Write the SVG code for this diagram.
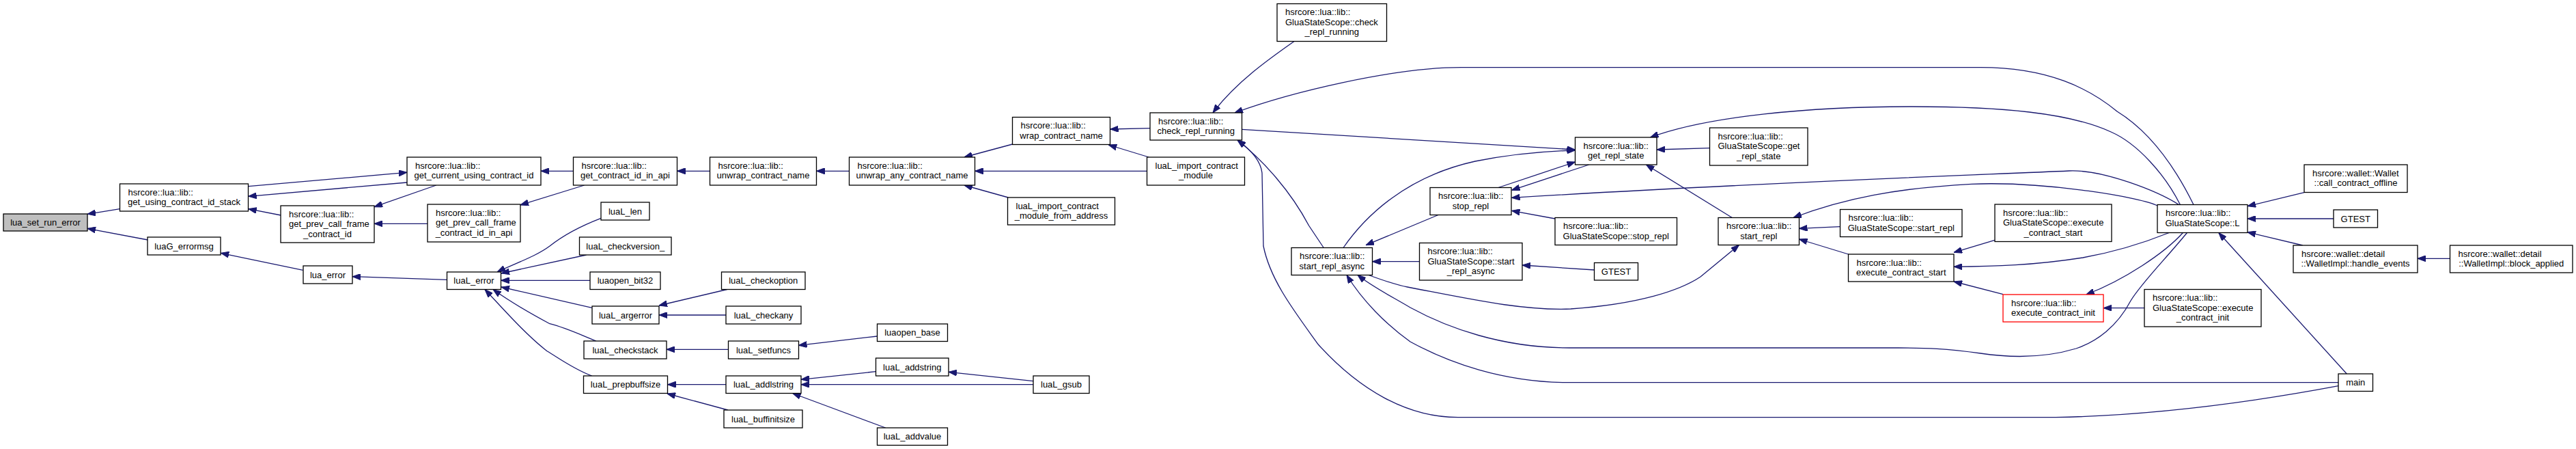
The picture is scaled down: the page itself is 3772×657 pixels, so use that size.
<svg xmlns="http://www.w3.org/2000/svg" width="3772" height="657" viewBox="0 0 3772 657">
<style>
.node rect{fill:#fff;stroke:#000;stroke-width:1.3}
.node text{font-family:"Liberation Sans",Arial,sans-serif;font-size:13px;fill:#000}
.c{text-anchor:middle}
.l{text-anchor:start}
#edges path{fill:none;stroke:#191970;stroke-width:1.3;marker-end:url(#ah)}
</style>
<defs>
<marker id="ah" viewBox="0 0 12 9" refX="12" refY="4.5" markerWidth="12" markerHeight="9" markerUnits="userSpaceOnUse" orient="auto"><path d="M0,0 L12,4.5 L0,9 z" fill="#191970" stroke="#191970" stroke-width="1"/></marker>
</defs>
<rect width="3772" height="657" fill="#fff"/>
<g id="edges">
<path d="M175.5,305.7 L128,313.3"/>
<path d="M216.3,351 L128,334.3"/>
<path d="M363.7,272.7 L596,252.3"/>
<path d="M596,267 L363.7,287.3"/>
<path d="M411.4,315 L363.7,305.7"/>
<path d="M638.8,271 L548,302.7"/>
<path d="M626,327.3 L548,327.3"/>
<path d="M839.5,250.3 L792,250.3"/>
<path d="M855.7,271 L762,300"/>
<path d="M1039.5,250.3 L991.5,250.3"/>
<path d="M1243.5,250.3 L1195.5,250.3"/>
<path d="M1482.5,211 L1411.8,230"/>
<path d="M1679.5,250.3 L1427.5,250.3"/>
<path d="M1476.3,289 L1411.8,271"/>
<path d="M1684,187.7 L1625.5,189"/>
<path d="M1682.4,230 L1623.3,212"/>
<path d="M1895,60.5 C1860,85 1810,120 1776,165"/>
<path d="M3212,299.5 C3195,265 3160,200 3100,163 C3060,130 3000,98.7 2900,98.7 L2140,98.7 C2040,98.7 1890,135 1808,165"/>
<path d="M1818.5,189.3 L2306.5,219"/>
<path d="M1967,362.5 C2000,315 2060,258 2160,236 C2220,224 2270,221 2306.5,220"/>
<path d="M2194,274.5 L2306.5,237"/>
<path d="M2326.7,241 L2213.5,278.3"/>
<path d="M3190.4,299.5 C3160,280 3080,248 3030,250 C2900,256 2600,266 2213.5,289.3"/>
<path d="M2277,320 L2213.5,308.3"/>
<path d="M2106,314.5 L2000,358.7"/>
<path d="M2503.5,216.7 L2426,219"/>
<path d="M3192.4,299.5 C3170,255 3130,210 3091,193 C3030,165 2930,156 2800,156 C2650,156 2500,170 2416.5,201"/>
<path d="M2536.3,318.5 L2410.4,241"/>
<path d="M1938.2,362.5 L1916.5,330 C1890,280 1850,235 1812,205"/>
<path d="M3424,564.7 C3300,588 3150,608 3010,610.7 L2135,610.7 C2060,610.7 1990,570 1930,503.7 C1895,455 1860,410 1850,360 L1848,253 C1846,235 1830,218 1812,205"/>
<path d="M2078.5,382.7 L2009.5,382.7"/>
<path d="M2334.5,395 L2229,388"/>
<path d="M2004,402.5 C2030,412 2050,418 2061,420 C2150,437 2230,455 2300,452 C2400,445 2460,425 2490,405 L2546.5,358.5"/>
<path d="M3202.5,340.5 C3170,380 3135,415 3120,440 C3100,478 3070,500 3040,510 C2990,525 2940,523 2900,517 C2850,510 2820,509 2780,509 L2298,509 C2200,509 2120,480 2065,450 C2040,435 2010,420 1988,402.5"/>
<path d="M3424,559.7 L2298,559.7 C2200,559.7 2120,530 2065,500 C2030,475 1995,440 1972,402.5"/>
<path d="M2694.5,331.7 L2634.5,334.3"/>
<path d="M2706.5,372 L2634.5,350"/>
<path d="M2921,351.3 L2861,369.3"/>
<path d="M3176.3,340.5 C3140,355 3100,368 3050,377 C2980,388 2920,390 2861,390.3"/>
<path d="M2933,430.7 L2861,412"/>
<path d="M3196.4,340.5 C3170,370 3110,410 3054.7,431"/>
<path d="M3140,450.7 L3080,450.7"/>
<path d="M3159,301 C3140,290 3000,265 2887,269.3 C2780,275 2700,290 2626,318.5"/>
<path d="M3436.3,547 L3248.8,340.5"/>
<path d="M3371.8,359 L3291,339.7"/>
<path d="M3374,281.7 L3291,301.7"/>
<path d="M3417,320 L3291,320"/>
<path d="M3587.5,378.3 L3540,378.3"/>
<path d="M443.7,395.3 L323.3,370.3"/>
<path d="M654.5,409.3 L516,404.7"/>
<path d="M880,319.3 C860,327 830,340 805,360 C785,375 755,385 728,398"/>
<path d="M858.6,373 L734,400"/>
<path d="M864,410.3 L733.5,410.3"/>
<path d="M866.7,450.3 L734,420"/>
<path d="M872.9,499 C850,490 830,480 805,473.7 C770,455 745,440 722,423.5"/>
<path d="M866.7,550 C840,540 820,525 801,513.7 C770,490 735,450 710,423.5"/>
<path d="M1064.7,423.5 L965,447"/>
<path d="M1063,461 L965,461"/>
<path d="M1066.5,511.3 L976,511.3"/>
<path d="M1284.5,492 L1169.5,505.3"/>
<path d="M1063,562.7 L977.5,562.7"/>
<path d="M1065.9,600 L977,576"/>
<path d="M1282.5,543.7 L1173,555.3"/>
<path d="M1513,562.7 L1173,562.7"/>
<path d="M1513,557.7 L1389,544.3"/>
<path d="M1296.7,626 L1160.6,575.5"/>
</g>
<g id="n_lua_set_run_error" class="node"><rect x="5" y="313" width="123" height="25" style="fill:#bfbfbf"/><text class="c" x="66.5" y="330">lua_set_run_error</text></g>
<g id="n_get_using_contract_id_stack" class="node"><rect x="175.5" y="269" width="188" height="40"/><text class="l" x="187.5" y="285.5">hsrcore::lua::lib::</text><text class="c" x="269.5" y="300">get_using_contract_id_stack</text></g>
<g id="n_luaG_errormsg" class="node"><rect x="216" y="347" width="107" height="26"/><text class="c" x="269.5" y="364.5">luaG_errormsg</text></g>
<g id="n_get_current_using_contract_id" class="node"><rect x="596" y="230" width="196" height="41"/><text class="l" x="608" y="246.5">hsrcore::lua::lib::</text><text class="c" x="694" y="261">get_current_using_contract_id</text></g>
<g id="n_get_prev_call_frame_contract_id" class="node"><rect x="411" y="301" width="137" height="54"/><text class="l" x="423" y="317.5">hsrcore::lua::lib::</text><text class="l" x="423" y="332">get_prev_call_frame</text><text class="c" x="479.5" y="346.5">_contract_id</text></g>
<g id="n_lua_error" class="node"><rect x="444" y="389" width="72" height="26"/><text class="c" x="480" y="406.5">lua_error</text></g>
<g id="n_get_prev_call_frame_contract_id_in_api" class="node"><rect x="626" y="299" width="136" height="55"/><text class="l" x="638" y="315.5">hsrcore::lua::lib::</text><text class="l" x="638" y="330">get_prev_call_frame</text><text class="c" x="694" y="344.5">_contract_id_in_api</text></g>
<g id="n_luaL_error" class="node"><rect x="654.5" y="398" width="79" height="25.5"/><text class="c" x="694" y="415.2">luaL_error</text></g>
<g id="n_get_contract_id_in_api" class="node"><rect x="839.5" y="230" width="152" height="41"/><text class="l" x="851.5" y="246.5">hsrcore::lua::lib::</text><text class="c" x="915.5" y="261">get_contract_id_in_api</text></g>
<g id="n_luaL_len" class="node"><rect x="880" y="296" width="71" height="26"/><text class="c" x="915.5" y="313.5">luaL_len</text></g>
<g id="n_luaL_checkversion_" class="node"><rect x="848.5" y="347" width="134.5" height="26"/><text class="c" x="915.75" y="364.5">luaL_checkversion_</text></g>
<g id="n_luaopen_bit32" class="node"><rect x="864" y="398" width="103" height="25.5"/><text class="c" x="915.5" y="415.2">luaopen_bit32</text></g>
<g id="n_luaL_argerror" class="node"><rect x="867" y="448" width="98" height="26"/><text class="c" x="916" y="465.5">luaL_argerror</text></g>
<g id="n_luaL_checkstack" class="node"><rect x="855" y="499" width="121" height="26"/><text class="c" x="915.5" y="516.5">luaL_checkstack</text></g>
<g id="n_luaL_prepbuffsize" class="node"><rect x="854.5" y="550" width="123" height="25.5"/><text class="c" x="916" y="567.2">luaL_prepbuffsize</text></g>
<g id="n_unwrap_contract_name" class="node"><rect x="1039.5" y="230" width="156" height="41"/><text class="l" x="1051.5" y="246.5">hsrcore::lua::lib::</text><text class="c" x="1117.5" y="261">unwrap_contract_name</text></g>
<g id="n_luaL_checkoption" class="node"><rect x="1056.5" y="398" width="122.5" height="25.5"/><text class="c" x="1117.75" y="415.2">luaL_checkoption</text></g>
<g id="n_luaL_checkany" class="node"><rect x="1063" y="448" width="110" height="26"/><text class="c" x="1118" y="465.5">luaL_checkany</text></g>
<g id="n_luaL_setfuncs" class="node"><rect x="1066.5" y="499" width="103" height="26"/><text class="c" x="1118" y="516.5">luaL_setfuncs</text></g>
<g id="n_luaL_addlstring" class="node"><rect x="1063" y="550" width="110" height="25.5"/><text class="c" x="1118" y="567.2">luaL_addlstring</text></g>
<g id="n_luaL_buffinitsize" class="node"><rect x="1060" y="600" width="115" height="26"/><text class="c" x="1117.5" y="617.5">luaL_buffinitsize</text></g>
<g id="n_unwrap_any_contract_name" class="node"><rect x="1243.5" y="230" width="184" height="41"/><text class="l" x="1255.5" y="246.5">hsrcore::lua::lib::</text><text class="c" x="1335.5" y="261">unwrap_any_contract_name</text></g>
<g id="n_luaopen_base" class="node"><rect x="1284.5" y="474" width="103" height="25.5"/><text class="c" x="1336" y="491.2">luaopen_base</text></g>
<g id="n_luaL_addstring" class="node"><rect x="1282.5" y="524" width="106.5" height="26"/><text class="c" x="1335.75" y="541.5">luaL_addstring</text></g>
<g id="n_luaL_addvalue" class="node"><rect x="1284.5" y="626" width="103" height="25.5"/><text class="c" x="1336" y="643.2">luaL_addvalue</text></g>
<g id="n_wrap_contract_name" class="node"><rect x="1482.5" y="171.5" width="143" height="40"/><text class="l" x="1494.5" y="188">hsrcore::lua::lib::</text><text class="c" x="1554" y="202.5">wrap_contract_name</text></g>
<g id="n_luaL_import_contract_module_from_address" class="node"><rect x="1475.5" y="289" width="157" height="40"/><text class="l" x="1487.5" y="305.5">luaL_import_contract</text><text class="c" x="1554" y="320">_module_from_address</text></g>
<g id="n_luaL_gsub" class="node"><rect x="1513" y="550" width="82" height="25.5"/><text class="c" x="1554" y="567.2">luaL_gsub</text></g>
<g id="n_check_repl_running" class="node"><rect x="1684" y="165" width="134.5" height="40"/><text class="l" x="1696" y="181.5">hsrcore::lua::lib::</text><text class="c" x="1751.25" y="196">check_repl_running</text></g>
<g id="n_luaL_import_contract_module" class="node"><rect x="1679.5" y="230" width="143" height="41"/><text class="l" x="1691.5" y="246.5">luaL_import_contract</text><text class="c" x="1751" y="261">_module</text></g>
<g id="n_GluaStateScope_check_repl_running" class="node"><rect x="1870" y="5.5" width="160.5" height="55"/><text class="l" x="1882" y="22">hsrcore::lua::lib::</text><text class="l" x="1882" y="36.5">GluaStateScope::check</text><text class="c" x="1950.25" y="51">_repl_running</text></g>
<g id="n_start_repl_async" class="node"><rect x="1891" y="362.5" width="118.5" height="40"/><text class="l" x="1903" y="379">hsrcore::lua::lib::</text><text class="c" x="1950.25" y="393.5">start_repl_async</text></g>
<g id="n_GluaStateScope_start_repl_async" class="node"><rect x="2078.5" y="355.5" width="150.5" height="54.5"/><text class="l" x="2090.5" y="372">hsrcore::lua::lib::</text><text class="l" x="2090.5" y="386.5">GluaStateScope::start</text><text class="c" x="2153.75" y="401">_repl_async</text></g>
<g id="n_stop_repl" class="node"><rect x="2094" y="274.5" width="119" height="40"/><text class="l" x="2106" y="291">hsrcore::lua::lib::</text><text class="c" x="2153.5" y="305.5">stop_repl</text></g>
<g id="n_GluaStateScope_stop_repl" class="node"><rect x="2277" y="318.5" width="178.5" height="40"/><text class="l" x="2289" y="335">hsrcore::lua::lib::</text><text class="c" x="2366.25" y="349.5">GluaStateScope::stop_repl</text></g>
<g id="n_get_repl_state" class="node"><rect x="2306.5" y="201" width="119.5" height="40"/><text class="l" x="2318.5" y="217.5">hsrcore::lua::lib::</text><text class="c" x="2366.25" y="232">get_repl_state</text></g>
<g id="n_GTEST_1" class="node"><rect x="2334.5" y="384.5" width="64" height="25.5"/><text class="c" x="2366.5" y="401.7">GTEST</text></g>
<g id="n_GluaStateScope_get_repl_state" class="node"><rect x="2503.5" y="187" width="143.5" height="55"/><text class="l" x="2515.5" y="203.5">hsrcore::lua::lib::</text><text class="l" x="2515.5" y="218">GluaStateScope::get</text><text class="c" x="2575.25" y="232.5">_repl_state</text></g>
<g id="n_start_repl" class="node"><rect x="2516" y="318.5" width="118.5" height="40"/><text class="l" x="2528" y="335">hsrcore::lua::lib::</text><text class="c" x="2575.25" y="349.5">start_repl</text></g>
<g id="n_GluaStateScope_start_repl" class="node"><rect x="2694.5" y="306.5" width="178.5" height="40"/><text class="l" x="2706.5" y="323">hsrcore::lua::lib::</text><text class="c" x="2783.75" y="337.5">GluaStateScope::start_repl</text></g>
<g id="n_execute_contract_start" class="node"><rect x="2706.5" y="372" width="154.5" height="40"/><text class="l" x="2718.5" y="388.5">hsrcore::lua::lib::</text><text class="c" x="2783.75" y="403">execute_contract_start</text></g>
<g id="n_GluaStateScope_execute_contract_start" class="node"><rect x="2921" y="299" width="171" height="54.5"/><text class="l" x="2933" y="315.5">hsrcore::lua::lib::</text><text class="l" x="2933" y="330">GluaStateScope::execute</text><text class="c" x="3006.5" y="344.5">_contract_start</text></g>
<g id="n_execute_contract_init" class="node"><rect x="2933" y="431" width="147" height="40" style="stroke:#ff0000"/><text class="l" x="2945" y="447.5">hsrcore::lua::lib::</text><text class="c" x="3006.5" y="462">execute_contract_init</text></g>
<g id="n_GluaStateScope_L" class="node"><rect x="3159" y="299.5" width="132" height="41"/><text class="l" x="3171" y="316">hsrcore::lua::lib::</text><text class="c" x="3225" y="330.5">GluaStateScope::L</text></g>
<g id="n_GluaStateScope_execute_contract_init" class="node"><rect x="3140" y="423.5" width="171" height="54.5"/><text class="l" x="3152" y="440">hsrcore::lua::lib::</text><text class="l" x="3152" y="454.5">GluaStateScope::execute</text><text class="c" x="3225.5" y="469">_contract_init</text></g>
<g id="n_call_contract_offline" class="node"><rect x="3374" y="241" width="151" height="40.5"/><text class="l" x="3386" y="257.5">hsrcore::wallet::Wallet</text><text class="c" x="3449.5" y="272">::call_contract_offline</text></g>
<g id="n_GTEST_2" class="node"><rect x="3417" y="307" width="64.5" height="26"/><text class="c" x="3449.25" y="324.5">GTEST</text></g>
<g id="n_handle_events" class="node"><rect x="3358" y="359" width="182" height="40"/><text class="l" x="3370" y="375.5">hsrcore::wallet::detail</text><text class="c" x="3449" y="390">::WalletImpl::handle_events</text></g>
<g id="n_block_applied" class="node"><rect x="3587.5" y="359" width="179.5" height="40"/><text class="l" x="3599.5" y="375.5">hsrcore::wallet::detail</text><text class="c" x="3677.25" y="390">::WalletImpl::block_applied</text></g>
<g id="n_main" class="node"><rect x="3424" y="547" width="50.5" height="25.5"/><text class="c" x="3449.25" y="564.2">main</text></g>
</svg>
